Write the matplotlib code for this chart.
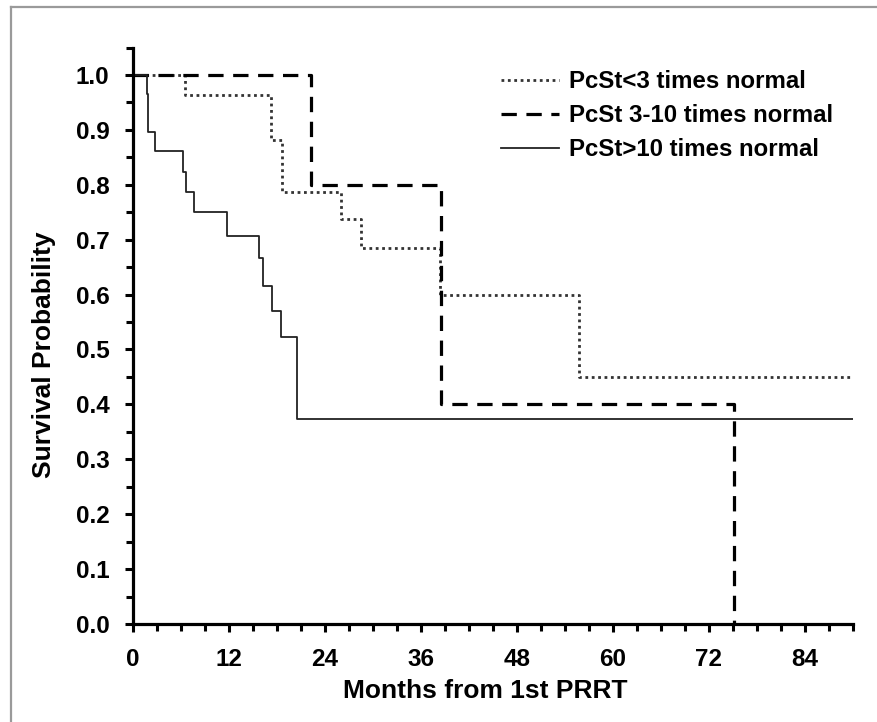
import matplotlib
matplotlib.use("Agg")
import matplotlib.pyplot as plt
from matplotlib.ticker import MultipleLocator
from matplotlib.lines import Line2D

# Kaplan-Meier step points (months, survival)
low_months = [0, 6.5, 17.3, 18.6, 26.0, 28.5, 38.4, 55.7, 90]
low_surv = [1.0, 0.964, 0.882, 0.786, 0.738, 0.684, 0.599, 0.450, 0.450]

mid_months = [0, 22.2, 38.5, 75.1, 75.1]
mid_surv = [1.0, 0.80, 0.40, 0.0, 0.0]

high_months = [0, 1.7, 1.9, 2.7, 6.3, 6.6, 7.6, 11.8, 15.7, 16.2, 17.4, 18.5, 20.5, 90]
high_surv = [1.0, 0.966, 0.897, 0.862, 0.824, 0.786, 0.751, 0.707, 0.666, 0.616,
             0.571, 0.522, 0.373, 0.373]

labels = ["PcSt<3 times normal", "PcSt 3-10 times normal", "PcSt>10 times normal"]
x_ticks = [0, 12, 24, 36, 48, 60, 72, 84]

plt.rcParams["font.family"] = ["Liberation Sans", "DejaVu Sans"]
plt.rcParams["font.weight"] = "bold"

fig = plt.figure(figsize=(8.78, 7.22), dpi=100)
ax = fig.add_axes([133 / 878, 1 - 624 / 722, (853 - 133) / 878, 1.05 * 549 / 722])

ax.step(low_months, low_surv, where="post", color="#333333", lw=2.0,
        dashes=(1, 1.3), label=labels[0])
ax.step(mid_months[:-1], mid_surv[:-1], where="post", color="black", lw=2.3,
        dashes=(4.8, 3.0), label=labels[1])
ax.step(high_months, high_surv, where="post", color="#222222", lw=1.3,
        label=labels[2])

ax.set_xlim(0, 90)
ax.set_ylim(0, 1.05)
ax.set_xticks(x_ticks)
ax.xaxis.set_minor_locator(MultipleLocator(3))
ax.yaxis.set_major_locator(MultipleLocator(0.1))
ax.yaxis.set_minor_locator(MultipleLocator(0.05))
ax.yaxis.set_major_formatter(matplotlib.ticker.FormatStrFormatter("%.1f"))

for side in ["top", "right"]:
    ax.spines[side].set_visible(False)
for side in ["left", "bottom"]:
    ax.spines[side].set_linewidth(2.3)

ax.tick_params(axis="both", which="major", direction="out", length=6, width=2.2,
               labelsize=17.5)
ax.tick_params(axis="y", which="major", pad=11)
ax.tick_params(axis="x", which="major", pad=11)
ax.tick_params(axis="both", which="minor", direction="out", length=5, width=2.2)

ax.set_xlabel("Months from 1st PRRT", fontsize=19, fontweight="bold")
ax.set_ylabel("Survival Probability", fontsize=19, fontweight="bold")
ax.xaxis.set_label_coords((485 - 133) / 720, -(679 - 624) / 576)
ax.yaxis.set_label_coords(-(133 - 56) / 720, (624 - 355) / 576)

leg = ax.legend(loc="upper left", bbox_to_anchor=(501 / 878, 1 - 70 / 722),
                bbox_transform=fig.transFigure, frameon=False, fontsize=17.3,
                handlelength=2.41, handletextpad=0.42, labelspacing=0.46,
                borderpad=0, borderaxespad=0)

# thin grey frame around the picture (top and left edges)
fig.add_artist(Line2D([11 / 878, 1], [1 - 7 / 722, 1 - 7 / 722],
                      transform=fig.transFigure, color="#9a9a9a", lw=1.6))
fig.add_artist(Line2D([11 / 878, 11 / 878], [0, 1 - 7 / 722],
                      transform=fig.transFigure, color="#9a9a9a", lw=1.6))

fig.savefig("out.png", dpi=100)
